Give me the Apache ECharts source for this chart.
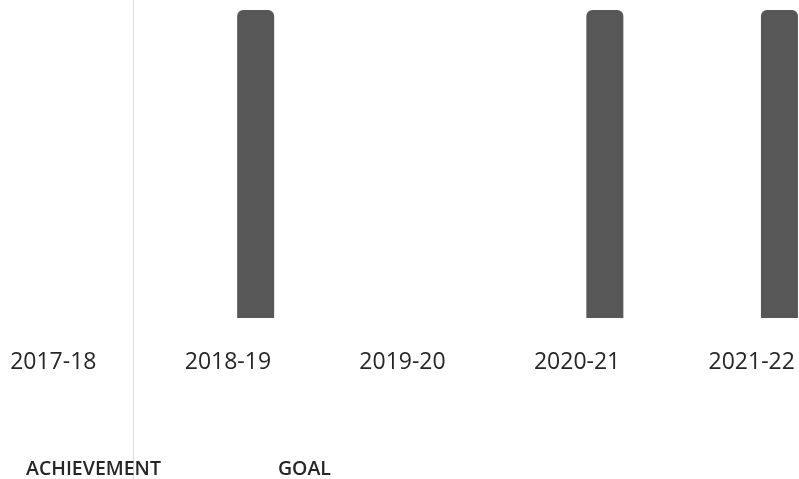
<!DOCTYPE html>
<html>
<head>
<meta charset="utf-8">
<script src="https://cdn.jsdelivr.net/npm/echarts@6/dist/echarts.min.js"></script>
<style>
html,body{margin:0;padding:0;background:#fff;overflow:hidden;width:799px;height:479px;position:relative;}
#c{position:absolute;left:-34px;top:0;width:873px;height:479px;}
</style>
</head>
<body>
<div id="c"></div>
<script>
const categories = ['2017-18', '2018-19', '2019-20', '2020-21', '2021-22'];
const achievement = [null, null, null, null, null];
const goal = [null, 100, null, 100, 100];
const seriesNames = ['ACHIEVEMENT', 'GOAL'];

const chart = echarts.init(document.getElementById('c'), null, {renderer: 'canvas'});
chart.setOption({
  backgroundColor: '#ffffff',
  animation: false,
  textStyle: {fontFamily: 'Open Sans'},
  grid: {left: 0, right: 0, top: 10, bottom: 161, containLabel: false},
  legend: {
    data: seriesNames,
    left: 40,
    top: 454,
    icon: 'none',
    itemWidth: 10,
    itemHeight: 14,
    itemGap: 102,
    textStyle: {fontFamily: 'Open Sans', fontSize: 19.5, fontWeight: 600, color: '#262626'}
  },
  xAxis: {
    type: 'category',
    data: categories,
    axisLine: {show: false},
    axisTick: {show: false},
    splitLine: {show: false},
    axisLabel: {fontFamily: 'Open Sans', fontSize: 23, color: '#262626', margin: 33}
  },
  yAxis: {
    type: 'value',
    min: 0,
    max: 100,
    show: false
  },
  series: [
    {
      name: seriesNames[0],
      type: 'bar',
      data: achievement,
      barWidth: 37,
      barGap: '50%',
      itemStyle: {color: '#bdbdbd', borderRadius: [6, 6, 0, 0]}
    },
    {
      name: seriesNames[1],
      type: 'bar',
      data: goal,
      barWidth: 37,
      barGap: '50%',
      itemStyle: {color: '#575757', borderRadius: [6, 6, 0, 0]}
    }
  ],
  graphic: [
    {
      type: 'line',
      shape: {x1: 167.5, y1: 0, x2: 167.5, y2: 479},
      style: {stroke: '#dcdcdc', lineWidth: 1},
      silent: true
    }
  ]
});
</script>
</body>
</html>
